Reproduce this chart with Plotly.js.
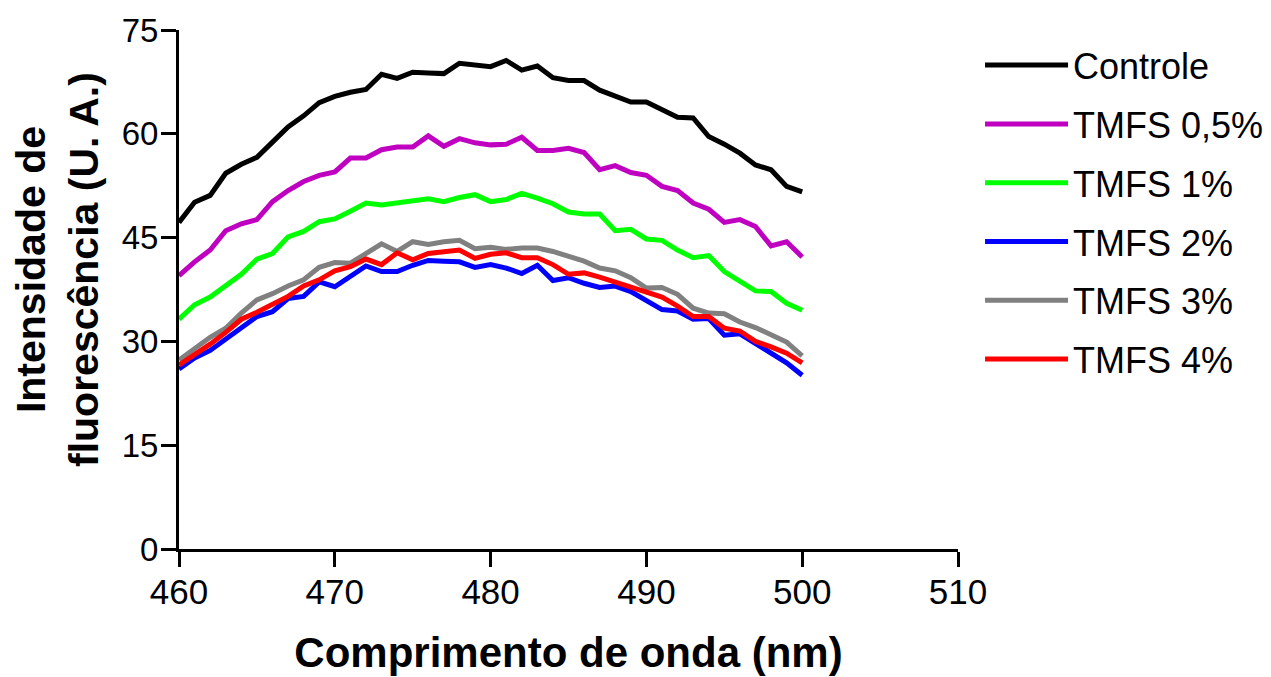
<!DOCTYPE html>
<html>
<head>
<meta charset="utf-8">
<script src="https://cdn.plot.ly/plotly-3.0.1.min.js"></script>
<style>html,body{margin:0;padding:0;background:#fff;}#chart{width:1271px;height:677px;}</style>
</head>
<body>
<div id="chart"></div>
<script>
const wavelength = [460,461,462,463,464,465,466,467,468,469,470,471,472,473,474,475,476,477,478,479,480,481,482,483,484,485,486,487,488,489,490,491,492,493,494,495,496,497,498,499,500];
const controle = [47.2,50.1,51.1,54.3,55.6,56.6,58.8,61.0,62.6,64.5,65.4,66.0,66.4,68.6,68.0,68.9,68.8,68.7,70.2,69.9,69.7,70.6,69.2,69.8,68.1,67.7,67.7,66.3,65.5,64.6,64.6,63.4,62.4,62.3,59.6,58.5,57.2,55.5,54.8,52.4,51.6];
const tmfs05 = [39.5,41.5,43.2,46.0,47.0,47.6,50.2,51.8,53.1,54.0,54.5,56.5,56.5,57.7,58.1,58.1,59.7,58.2,59.3,58.7,58.4,58.5,59.5,57.6,57.6,57.9,57.3,54.8,55.4,54.4,54.0,52.4,51.8,50.0,49.1,47.2,47.6,46.6,43.8,44.4,42.2];
const tmfs1 = [33.2,35.3,36.4,38.1,39.7,41.9,42.7,45.1,45.9,47.3,47.7,48.8,50.0,49.7,50.0,50.3,50.6,50.2,50.8,51.2,50.2,50.5,51.4,50.7,49.9,48.7,48.4,48.4,46.0,46.2,44.8,44.6,43.2,42.1,42.4,40.1,38.8,37.3,37.2,35.5,34.5];
const tmfs2 = [26.0,27.6,28.7,30.4,32.1,33.6,34.3,36.2,36.5,38.6,37.9,39.3,40.9,40.1,40.1,41.0,41.7,41.6,41.5,40.7,41.1,40.6,39.8,41.0,38.8,39.2,38.4,37.8,38.0,37.2,36.0,34.6,34.4,33.2,33.3,30.9,31.1,29.7,28.4,26.9,25.1];
const tmfs3 = [27.3,29.0,30.6,31.9,34.1,36.0,36.9,38.0,38.9,40.7,41.4,41.3,42.8,44.1,43.0,44.4,44.0,44.4,44.6,43.4,43.6,43.3,43.5,43.5,43.0,42.3,41.6,40.6,40.2,39.2,37.7,37.8,36.8,34.8,34.1,34.0,32.8,32.0,31.0,29.9,27.9];
const tmfs4 = [26.6,28.0,29.6,31.3,33.2,34.2,35.3,36.5,38.0,38.9,40.2,40.8,41.9,41.1,42.8,41.8,42.7,42.9,43.2,42.0,42.6,42.8,42.1,42.1,41.1,39.7,39.9,39.3,38.6,37.8,37.2,36.4,35.1,33.6,33.6,31.9,31.5,30.0,29.2,28.3,26.9];

const seriesNames = ["Controle","TMFS 0,5%","TMFS 1%","TMFS 2%","TMFS 3%","TMFS 4%"];
const seriesValues = [controle,tmfs05,tmfs1,tmfs2,tmfs3,tmfs4];
const seriesColors = ["#000000","#c000c0","#00ff00","#0000ff","#808080","#ff0000"];

const xTitle = "Comprimento de onda (nm)";
const yTitle = "Intensidade de<br>fluorescência (U. A.)";

const FONT = "Arial";

const traces = seriesNames.map((name,i)=>({
  type:"scatter", mode:"lines", name:name,
  x:wavelength, y:seriesValues[i],
  legendgroup:"g"+i,
  line:{color:seriesColors[i], width:5}
}));

const layout = {
  width:1271, height:677,
  margin:{l:179, r:313, t:30, b:128, pad:0, autoexpand:false},
  paper_bgcolor:"#ffffff", plot_bgcolor:"#ffffff",
  font:{family:FONT, color:"#000000"},
  showlegend:true,
  legend:{
    x:1.0283, y:0.99, xanchor:"left", yanchor:"top",
    font:{family:FONT, size:36, color:"#000"},
    itemwidth:83, tracegroupgap:9, bgcolor:"rgba(0,0,0,0)"
  },
  xaxis:{
    range:[460,510], tickmode:"linear", tick0:460, dtick:10,
    showgrid:false, zeroline:false,
    showline:true, linecolor:"#000", linewidth:3,
    ticks:"outside", ticklen:15, tickwidth:3, tickcolor:"#000",
    ticklabelstandoff:-5,
    tickfont:{family:FONT, size:35, color:"#000"},
    title:{text:xTitle, font:{family:FONT, size:42, weight:"bold", color:"#000"}, standoff:28}
  },
  yaxis:{
    range:[0,75], tickmode:"linear", tick0:0, dtick:15,
    showgrid:false, zeroline:false,
    showline:true, linecolor:"#000", linewidth:3,
    ticks:"outside", ticklen:15, tickwidth:3, tickcolor:"#000",
    ticklabelstandoff:-4,
    tickfont:{family:FONT, size:33, color:"#000"}
  },
  annotations:[{
    text:yTitle, textangle:-90, showarrow:false,
    xref:"paper", yref:"paper", x:(57-179)/779, y:(549-270)/519,
    xanchor:"center", yanchor:"middle",
    font:{family:FONT, size:41, weight:"bold", color:"#000"}
  }]
};

Plotly.newPlot("chart", traces, layout, {displayModeBar:false, staticPlot:true});
</script>
</body>
</html>
